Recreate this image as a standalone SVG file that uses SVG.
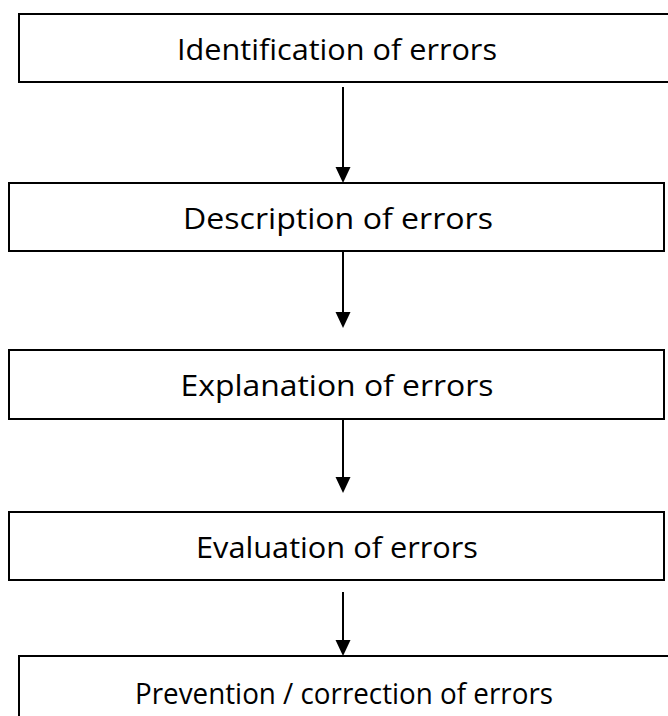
<svg xmlns="http://www.w3.org/2000/svg" width="668" height="716" viewBox="0 0 668 716">
<style>
.box{fill:#fff;stroke:#000;stroke-width:2}
.lbl{font-family:"Open Sans","Noto Sans","Liberation Sans",sans-serif;font-size:29px;fill:#000;text-anchor:middle;lengthAdjust:spacingAndGlyphs}
.conn line{stroke:#000;stroke-width:2}
.conn polygon{fill:#000}
</style>
<rect width="668" height="716" fill="#fff"/>
<g id="n1"><rect class="box" x="19" y="14" width="652" height="68"/><text class="lbl" x="337" y="60" textLength="320" lengthAdjust="spacingAndGlyphs">Identification of errors</text></g>
<g id="n2"><rect class="box" x="9" y="183" width="655" height="68"/><text class="lbl" x="338" y="229" textLength="310" lengthAdjust="spacingAndGlyphs">Description of errors</text></g>
<g id="n3"><rect class="box" x="9" y="350" width="655" height="69"/><text class="lbl" x="337" y="396" textLength="313" lengthAdjust="spacingAndGlyphs">Explanation of errors</text></g>
<g id="n4"><rect class="box" x="9" y="512" width="655" height="68"/><text class="lbl" x="337" y="558" textLength="282" lengthAdjust="spacingAndGlyphs">Evaluation of errors</text></g>
<g id="n5"><rect class="box" x="19" y="656" width="652" height="80"/><text class="lbl" x="344" y="704" textLength="418" lengthAdjust="spacingAndGlyphs">Prevention / correction of errors</text></g>
<g id="connectors" class="conn">
<line x1="343" y1="87" x2="343" y2="168"/><polygon points="335.5,167 350.5,167 343,183"/>
<line x1="343" y1="251" x2="343" y2="313"/><polygon points="335.5,312 350.5,312 343,328"/>
<line x1="343" y1="419" x2="343" y2="478"/><polygon points="335.5,477 350.5,477 343,493"/>
<line x1="343" y1="592" x2="343" y2="641"/><polygon points="335.5,640 350.5,640 343,656"/>
</g>
</svg>
